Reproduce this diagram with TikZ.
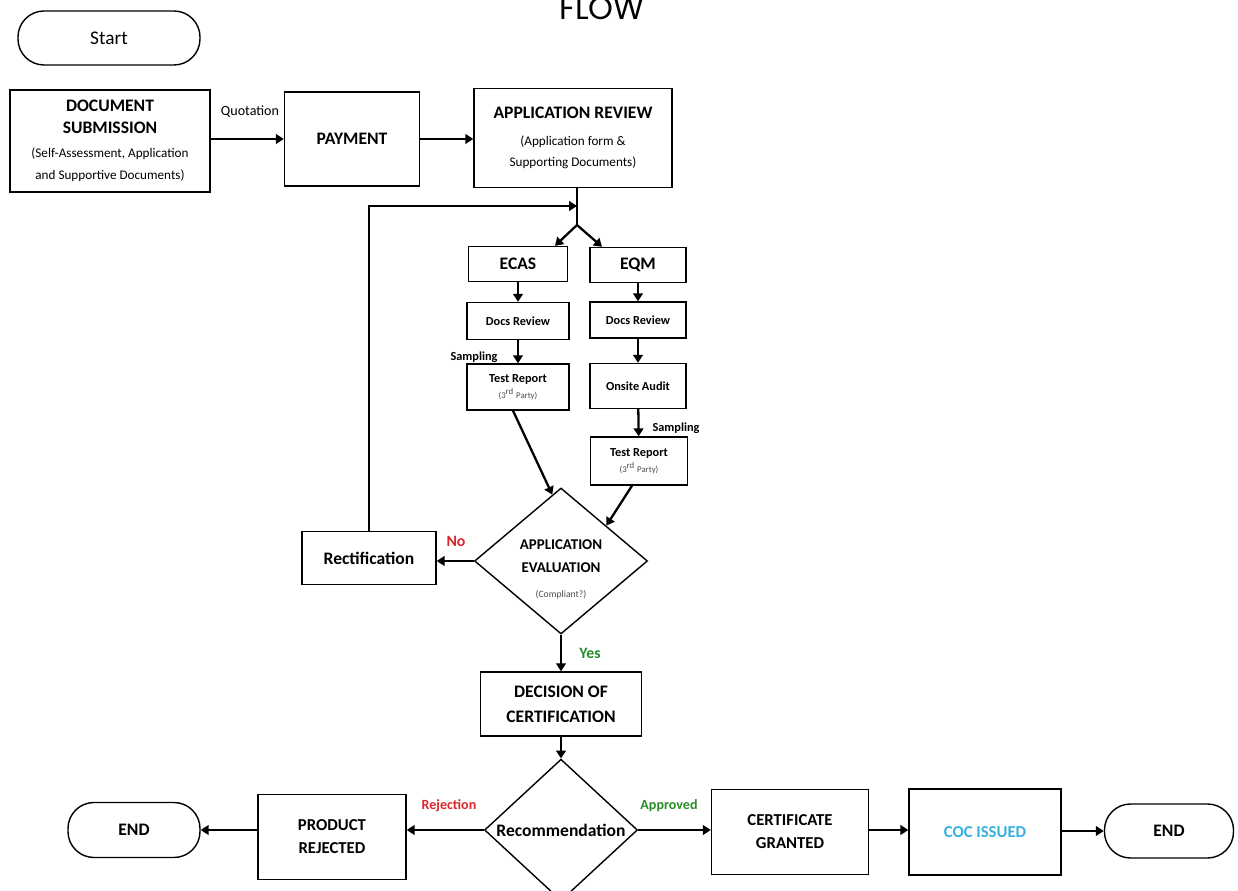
\documentclass[tikz,border=0pt]{standalone}
\usepackage{fontspec}
\setmainfont{Carlito}
\newfontfamily\flowfont{Poppins}
\usetikzlibrary{shapes.geometric,arrows.meta,calc}
\definecolor{nored}{RGB}{218,38,44}
\definecolor{yesgreen}{RGB}{40,140,40}
\definecolor{cocblue}{RGB}{56,176,222}
\newcommand{\sz}[2]{\fontsize{#1}{#2}\selectfont}
\newcommand{\subtxt}{\mdseries\sz{7.5}{10.5}}
\newcommand{\partytxt}{\mdseries\color{black!70}\sz{5}{6}}

\begin{document}
\begin{tikzpicture}[
  box/.style={draw,line width=0.8pt,align=center,inner sep=2pt},
  term/.style={draw,line width=0.8pt,rounded corners=0.52cm,align=center},
  dec/.style={draw,diamond,line width=0.8pt,align=center,inner sep=0pt},
  link/.style={line width=1.3pt},
  arr/.style={line width=1.3pt,-{Triangle[length=4.5pt,width=5.5pt]}},
  lbl/.style={font=\bfseries\sz{7}{8}}
]
  \useasboundingbox (0,0) rectangle (24.76,-17.82);

  \node[term,minimum width=3.64cm,minimum height=1.08cm,font=\sz{11}{13}] (start) at (2.18,-0.76) {Start};
  \node[font=\flowfont\sz{18}{22},anchor=base] (flow) at (12.04,-0.4) {FLOW};

  % top row
  \node[box,minimum width=4cm,minimum height=2.04cm,font=\bfseries\sz{10}{12.5}] (submit) at (2.2,-2.82)
    {DOCUMENT\\SUBMISSION\\[1pt]\subtxt(Self-Assessment, Application\\\subtxt and Supportive Documents)};
  \node[box,minimum width=2.7cm,minimum height=1.88cm,font=\bfseries\sz{10}{12}] (payment) at (7.04,-2.78) {PAYMENT};
  \node[box,minimum width=3.96cm,minimum height=1.98cm,font=\bfseries\sz{10}{12}] (review) at (11.46,-2.76)
    {APPLICATION REVIEW\\[3pt]\subtxt(Application form \&\\\subtxt Supporting Documents)};
  \node[font=\sz{8}{9}] (quote) at (5.0,-2.24) {Quotation};

  \coordinate (join) at (11.54,-4.12);
  \coordinate (fork) at (11.54,-4.5);

  % two branches
  \node[box,minimum width=1.98cm,minimum height=0.7cm,font=\bfseries\sz{10}{12}] (ecas) at (10.36,-5.28) {ECAS};
  \node[box,minimum width=1.92cm,minimum height=0.7cm,font=\bfseries\sz{10}{12}] (eqm) at (12.76,-5.3) {EQM};
  \node[box,minimum width=2.04cm,minimum height=0.74cm,font=\bfseries\sz{7}{8}] (docsA) at (10.36,-6.42) {Docs Review};
  \node[box,minimum width=1.92cm,minimum height=0.72cm,font=\bfseries\sz{7}{8}] (docsB) at (12.76,-6.4) {Docs Review};
  \node[box,minimum width=2.04cm,minimum height=0.92cm,font=\bfseries\sz{7}{9}] (testA) at (10.36,-7.74)
    {Test Report\\\partytxt(3\textsuperscript{rd} Party)};
  \node[box,minimum width=1.92cm,minimum height=0.9cm,font=\bfseries\sz{7}{8}] (onsite) at (12.76,-7.72) {Onsite Audit};
  \node[box,minimum width=1.94cm,minimum height=0.96cm,font=\bfseries\sz{7}{9}] (testB) at (12.78,-9.22)
    {Test Report\\\partytxt(3\textsuperscript{rd} Party)};
  \node[lbl] (sampA) at (9.48,-7.14) {Sampling};
  \node[lbl] (sampB) at (13.52,-8.56) {Sampling};

  % evaluation
  \node[dec,minimum width=3.46cm,minimum height=2.92cm,inner sep=-5pt,font=\bfseries\sz{8.5}{13}] (eval) at (11.22,-11.22)
    {\rule{0pt}{15pt}APPLICATION\\EVALUATION\\[1pt]\mdseries\color{black!70}\sz{5.5}{8}(Compliant?)};
  \node[box,minimum width=2.68cm,minimum height=1.06cm,font=\bfseries\sz{10}{12}] (rect) at (7.38,-11.16) {Rectification};
  \node[font=\bfseries\sz{9}{10},text=nored] (no) at (9.12,-10.82) {No};
  \node[font=\bfseries\sz{9}{10},text=yesgreen] (yes) at (11.8,-13.06) {Yes};
  \node[box,minimum width=3.22cm,minimum height=1.28cm,font=\bfseries\sz{10}{14}] (decide) at (11.22,-14.08) {DECISION OF\\CERTIFICATION};

  % bottom row
  \node[dec,minimum width=3.06cm,minimum height=2.6cm,font=\bfseries\sz{10}{12}] (recom) at (11.22,-16.6) {Recommendation};
  \node[box,minimum width=2.96cm,minimum height=1.7cm,font=\bfseries\sz{9.5}{13}] (reject) at (6.64,-16.74) {PRODUCT\\REJECTED};
  \node[term,minimum width=2.64cm,minimum height=1.1cm,font=\bfseries\sz{10}{12}] (endA) at (2.68,-16.6) {END};
  \node[box,minimum width=3.14cm,minimum height=1.7cm,font=\bfseries\sz{9.5}{13}] (grant) at (15.8,-16.64) {CERTIFICATE\\GRANTED};
  \node[box,minimum width=3.04cm,minimum height=1.72cm,font=\bfseries\sz{9.5}{12},text=cocblue] (coc) at (19.7,-16.64) {COC ISSUED};
  \node[term,minimum width=2.58cm,minimum height=1.08cm,font=\bfseries\sz{10}{12}] (endB) at (23.38,-16.62) {END};
  \node[font=\bfseries\sz{8}{9},text=nored] (rejlbl) at (8.98,-16.12) {Rejection};
  \node[font=\bfseries\sz{8}{9},text=yesgreen] (applbl) at (13.38,-16.12) {Approved};

  \draw[arr] (submit.east |- payment.west) -- (payment.west);
  \draw[arr] (payment.east) -- (payment.east -| review.west);
  \draw[link] (review.south -| fork) -- (fork);
  \draw[arr] (fork) -- ([xshift=0.74cm]ecas.north);
  \draw[arr] (fork) -- ([xshift=-0.72cm]eqm.north);
  \draw[arr] (ecas) -- (docsA);
  \draw[arr] (docsA) -- (testA);
  \draw[arr] (eqm) -- (docsB);
  \draw[arr] (docsB) -- (onsite);
  \draw[arr] (onsite) -- (testB);
  \draw[arr] ([xshift=-0.1cm]testA.south) -- ($(eval.north)!0.1!(eval.west)$);
  \draw[arr] ([xshift=-0.14cm]testB.south) -- ($(eval.north)!0.52!(eval.east)$);
  \draw[arr] (eval.west) -- (eval.west -| rect.east);
  \draw[arr] (rect.north) |- (join);
  \draw[arr] (eval.south) -- (decide.north);
  \draw[arr] (decide.south) -- (recom.north);
  \draw[arr] (recom.west) -- (recom.west -| reject.east);
  \draw[arr] (reject.west |- endA) -- (endA.east);
  \draw[arr] (recom.east) -- (recom.east -| grant.west);
  \draw[arr] (grant.east |- recom) -- (coc.west |- recom);
  \draw[arr] (coc.east |- endB) -- (endB.west);

\end{tikzpicture}
\end{document}
